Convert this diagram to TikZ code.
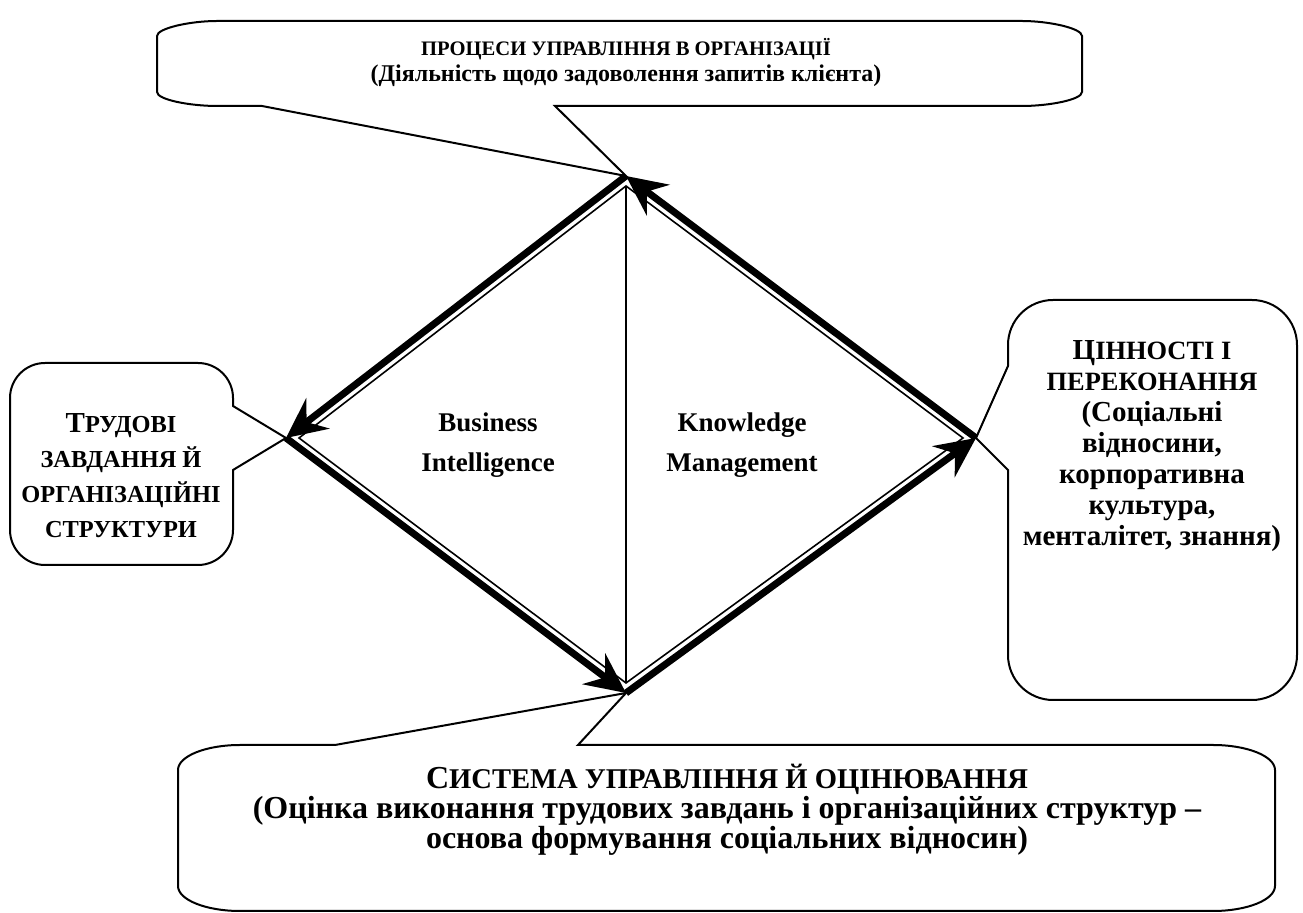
\documentclass[tikz,border=0pt]{standalone}
\usepackage{fontspec}
\setmainfont{Liberation Serif}
\usetikzlibrary{arrows.meta, calc}
\newcommand{\smcaps}[2][12pt]{{\fontsize{#1}{14pt}\selectfont #2}}

\begin{document}
\begin{tikzpicture}[x=0.5pt, y=-0.5pt,
		callout/.style={line width=1pt, line join=miter},
		bigarrow/.style={line width=3.5pt, -{Stealth[length=20pt, width=19pt, inset=7pt]}},
		innerline/.style={line width=0.8pt},
		txt/.style={font=\bfseries\fontsize{14.5pt}{#1}\selectfont, align=center, inner sep=0pt},
		label/.style={font=\bfseries\fontsize{13.5pt}{20pt}\selectfont, align=center, inner sep=0pt}]
			\useasboundingbox (0,0) rectangle (1303,913);
			% Diamond corners
			\coordinate (top) at (626,176);
			\coordinate (left) at (286,438);
			\coordinate (bottom) at (626,693);
			\coordinate (right) at (976,438);
			\coordinate (itop) at (626,186);
			\coordinate (ileft) at (299,438);
			\coordinate (ibottom) at (626,683);
			\coordinate (iright) at (963,438);
			
			% Callouts
			\draw[callout] (157,36) .. controls (157,28.3) and (190,21) .. (217,21)
				-- (1022,21) .. controls (1049,21) and (1082,28.3) .. (1082,36)
				-- (1082,92) .. controls (1082,99.7) and (1049,106) .. (1022,106)
				-- (555,106) -- (top) -- (262,106)
				-- (217,106) .. controls (190,106) and (157,99.7) .. (157,92) -- cycle;
			\draw[callout] (10,398) .. controls (10,378.7) and (25.7,363) .. (45,363)
				-- (198,363) .. controls (217.3,363) and (233,378.7) .. (233,398)
				-- (233,406) -- (left) -- (233,470)
				-- (233,530) .. controls (233,549.3) and (217.3,565) .. (198,565)
				-- (45,565) .. controls (25.7,565) and (10,549.3) .. (10,530) -- cycle;
			\draw[callout] (1008,345) .. controls (1008,320.2) and (1028.2,300) .. (1053,300)
				-- (1252,300) .. controls (1276.8,300) and (1297,320.2) .. (1297,345)
				-- (1297,655) .. controls (1297,679.8) and (1276.8,700) .. (1252,700)
				-- (1053,700) .. controls (1028.2,700) and (1008,679.8) .. (1008,655)
				-- (1008,470) -- (right) -- (1008,366) -- cycle;
			\draw[callout] (178,770) .. controls (178,756.2) and (205.8,745) .. (240,745)
				-- (335,745) -- (bottom) -- (578,745)
				-- (1213,745) .. controls (1247.2,745) and (1275,756.2) .. (1275,770)
				-- (1275,886) .. controls (1275,899.8) and (1247.2,911) .. (1213,911)
				-- (240,911) .. controls (205.8,911) and (178,899.8) .. (178,886) -- cycle;
			
			% Texts
			\node[txt=13pt, font=\bfseries\fontsize{12pt}{13pt}\selectfont] (proc) at (626,62) {\smcaps[10.3pt]{ПРОЦЕСИ УПРАВЛІННЯ В ОРГАНІЗАЦІЇ}\\(Діяльність щодо задоволення запитів клієнта)};
			\node[txt=17.5pt] (tasks) at (121,476) {Т\smcaps[12.2pt]{РУДОВІ}\\\smcaps[12.2pt]{ЗАВДАННЯ Й}\\\smcaps[12.2pt]{ОРГАНІЗАЦІЙНІ}\\\smcaps[12.2pt]{СТРУКТУРИ}};
			\node[txt=15.5pt] (values) at (1152,446) {Ц\smcaps[13.2pt]{ІННОСТІ І}\\\smcaps[13.2pt]{ПЕРЕКОНАННЯ}\\(Соціальні\\відносини,\\корпоративна\\культура,\\менталітет, знання)};
			\node[txt=15pt, font=\bfseries\fontsize{16pt}{15pt}\selectfont] (control) at (727,810) {С\smcaps[14.3pt]{ИСТЕМА УПРАВЛІННЯ Й ОЦІНЮВАННЯ}\\(Оцінка виконання трудових завдань і організаційних структур –\\основа формування соціальних відносин)};
			\node[label] (bi) at (488,445) {Business\\Intelligence};
			\node[label] (km) at (742,445) {Knowledge\\Management};
			
			% Inner lines
			\draw[innerline] (itop) -- (ileft) -- (ibottom) -- (iright) -- cycle;
			\draw[innerline] (itop) -- (ibottom);
			% Arrows
			\draw[bigarrow] (top) -- (left);
			\draw[bigarrow] (left) -- (bottom);
			\draw[bigarrow] (bottom) -- (right);
			\draw[bigarrow] (right) -- (top);
			
		\end{tikzpicture}
\end{document}
